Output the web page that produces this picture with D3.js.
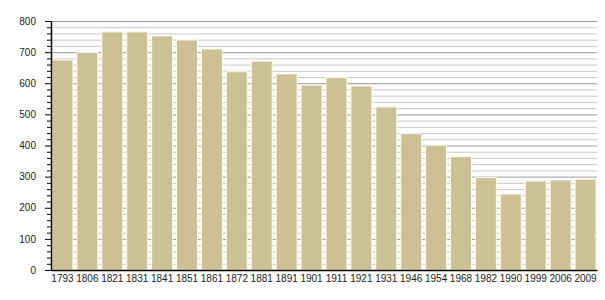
<!DOCTYPE html>
<html>
<head>
<meta charset="utf-8">
<script src="https://cdn.jsdelivr.net/npm/d3@7"></script>
<style>
  body { margin: 0; background: #fff; }
  text { font-family: "Liberation Sans", Arial, sans-serif; fill: #222; }
</style>
</head>
<body>
<svg id="chart" width="605" height="300"></svg>
<script>
const years = ["1793","1806","1821","1831","1841","1851","1861","1872","1881","1891","1901","1911","1921","1931","1946","1954","1968","1982","1990","1999","2006","2009"];
const population = [675, 699, 765, 765, 752, 739, 710, 637, 671, 630, 594, 618, 591, 524, 438, 401, 364, 297, 244, 286, 289, 292];
const yTicks = [0, 100, 200, 300, 400, 500, 600, 700, 800];

const svg = d3.select("#chart");
const plotLeft = 51, plotRight = 597, plotTop = 21, plotBottom = 270;

const x = d3.scaleBand()
  .domain(years)
  .range([plotLeft, plotRight])
  .paddingInner(0.16)
  .paddingOuter(0.04);

const y = d3.scaleLinear()
  .domain([0, 800])
  .range([plotBottom, plotTop]);

// minor gridlines every 20
const minor = d3.range(20, 801, 20).filter(v => v % 100 !== 0);
svg.selectAll("line.minor")
  .data(minor)
  .enter()
  .append("line")
  .attr("class", "minor")
  .attr("x1", plotLeft).attr("x2", plotRight)
  .attr("y1", d => y(d) + 0.5).attr("y2", d => y(d) + 0.5)
  .attr("stroke", "#c8c8c8")
  .attr("stroke-width", 1);

// major gridlines every 100
svg.selectAll("line.major")
  .data(yTicks.slice(1))
  .enter()
  .append("line")
  .attr("class", "major")
  .attr("x1", plotLeft).attr("x2", plotRight)
  .attr("y1", d => y(d) + 0.5).attr("y2", d => y(d) + 0.5)
  .attr("stroke", "#999")
  .attr("stroke-width", 1);

// bars
svg.selectAll("rect")
  .data(population)
  .enter()
  .append("rect")
  .attr("x", (d, i) => x(years[i]))
  .attr("y", d => y(d))
  .attr("width", x.bandwidth())
  .attr("height", d => plotBottom - y(d))
  .attr("fill", "#cbc096")
  .attr("stroke", "#fffbe2")
  .attr("stroke-width", 1);

// y axis: minor ticks
svg.append("g")
  .attr("transform", `translate(${plotLeft},0)`)
  .call(d3.axisLeft(y).tickValues(minor).tickSize(4).tickFormat(""))
  .call(g => g.select(".domain").remove())
  .call(g => g.selectAll("line").attr("stroke", "#000"));

// y axis: major ticks + labels
svg.append("g")
  .attr("transform", `translate(${plotLeft},0)`)
  .call(d3.axisLeft(y).tickValues(yTicks).tickSize(6).tickPadding(9).tickSizeOuter(0))
  .call(g => g.select(".domain").attr("stroke", "#000").attr("stroke-width", 1.5))
  .call(g => g.selectAll("line").attr("stroke", "#000"))
  .call(g => g.selectAll("text").style("font-size", "10px").attr("fill", "#222"));

// x axis
svg.append("g")
  .attr("transform", `translate(0,${plotBottom})`)
  .call(d3.axisBottom(x).tickSize(0).tickPadding(5))
  .call(g => g.select(".domain").attr("stroke", "#000").attr("stroke-width", 1.5))
  .call(g => g.selectAll("text").style("font-size", "10px").attr("fill", "#222"));
</script>
</body>
</html>
